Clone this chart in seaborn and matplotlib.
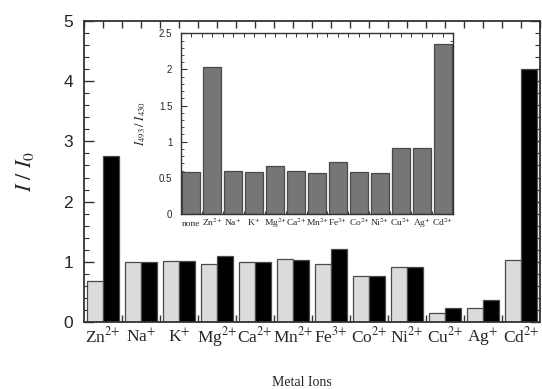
import matplotlib
matplotlib.use("Agg")
import matplotlib.pyplot as plt
import matplotlib.ticker as mticker
import numpy as np
import pandas as pd
import seaborn as sns

# Main panel: relative emission intensity for each metal ion
ions = ["Zn$^{2{+}}$", "Na$^{+}$", "K$^{+}$", "Mg$^{2{+}}$", "Ca$^{2{+}}$", "Mn$^{2{+}}$",
        "Fe$^{3{+}}$", "Co$^{2{+}}$", "Ni$^{2{+}}$", "Cu$^{2{+}}$", "Ag$^{+}$", "Cd$^{2{+}}$"]
band_430 = [0.68, 0.99, 1.01, 0.96, 0.99, 1.05, 0.97, 0.76, 0.92, 0.155, 0.24, 1.03]
band_493 = [2.75, 0.99, 1.01, 1.10, 0.99, 1.03, 1.21, 0.76, 0.92, 0.24, 0.365, 4.21]
series_names = ["430 nm", "493 nm"]

# Inset: intensity ratio I493 / I430
inset_labels = ["none", "Zn$^{2{+}}$", "Na$^{+}$", "K$^{+}$", "Mg$^{2{+}}$", "Ca$^{2{+}}$",
                "Mn$^{2{+}}$", "Fe$^{3{+}}$", "Co$^{2{+}}$", "Ni$^{2{+}}$", "Cu$^{2{+}}$",
                "Ag$^{+}$", "Cd$^{2{+}}$"]
ratio = [0.58, 2.03, 0.60, 0.58, 0.66, 0.60, 0.57, 0.72, 0.58, 0.57, 0.92, 0.91, 2.35]

sns.set_theme(style="white")
plt.rcParams["font.family"] = ["Liberation Serif", "DejaVu Serif"]
plt.rcParams["mathtext.fontset"] = "stix"

frame = "#333333"
edge = "#4a4a4a"

df = pd.DataFrame({
    "ion": ions * 2,
    "value": band_430 + band_493,
    "band": [series_names[0]] * len(ions) + [series_names[1]] * len(ions),
})
df_in = pd.DataFrame({"label": inset_labels, "ratio": ratio})

fig = plt.figure(figsize=(5.42, 3.89), dpi=100)
ax = fig.add_axes([84 / 542, 1 - 322 / 389, 456 / 542, 301 / 389])

sns.barplot(data=df, x="ion", y="value", hue="band", order=ions,
            hue_order=series_names, palette=["#dcdcdc", "#000000"],
            width=0.85, gap=0, edgecolor=edge, linewidth=0.9,
            legend=False, ax=ax)

ax.set_xlim(-0.5, len(ions) - 0.5)
ax.set_ylim(0, 5)
ax.yaxis.set_major_locator(mticker.MultipleLocator(1))
ax.yaxis.set_minor_locator(mticker.MultipleLocator(0.2))
ax.tick_params(axis="y", which="major", direction="in", length=7, width=1.0,
               color=frame, left=True, right=True, labelsize=12.5, pad=8)
ax.tick_params(axis="y", which="minor", direction="in", length=3.5, width=0.8,
               color=frame, left=True, right=True)
for lab in ax.get_yticklabels():
    lab.set_fontfamily(["Liberation Sans", "DejaVu Sans"])

ax.xaxis.set_minor_locator(mticker.FixedLocator(np.arange(0.5, len(ions) - 1, 1.0)))
ax.tick_params(axis="x", which="major", length=0, labelsize=12.5, pad=14.4)
ax.tick_params(axis="x", which="minor", direction="in", length=5, width=1.0,
               color=frame, bottom=True)
plt.setp(ax.get_xticklabels(), va="baseline")
top = ax.secondary_xaxis("top")
top.set_xticks(np.arange(-0.5, len(ions), 0.5))
top.tick_params(axis="x", direction="in", length=5, width=1.0, color=frame,
                labeltop=False)
top.spines["top"].set_visible(False)

for s in ax.spines.values():
    s.set_visible(True)
    s.set_color(frame)
    s.set_linewidth(1.3)

ax.set_ylabel("$I\\ /\\ I_0$", fontsize=16)
ax.yaxis.set_label_coords(-48 / 456, 0.5)
ax.set_xlabel("Metal Ions", fontsize=10)
ax.xaxis.set_label_coords((302 - 84) / 456, -0.18)

# Inset axes
ins = fig.add_axes([180.7 / 542, 1 - 214 / 389, 272.6 / 542, 180.7 / 389])
sns.barplot(data=df_in, x="label", y="ratio", order=inset_labels,
            color="#767676", saturation=1, width=0.83, edgecolor=edge,
            linewidth=0.9, ax=ins)
ins.set_xlim(-0.5, len(inset_labels) - 0.5)
ins.set_ylim(0, 2.5)
ins.yaxis.set_major_locator(mticker.MultipleLocator(0.5))
ins.yaxis.set_minor_locator(mticker.MultipleLocator(0.1))
ins.yaxis.set_major_formatter(mticker.FuncFormatter(lambda v, p: f"{v:g}"))
ins.tick_params(axis="y", which="major", direction="in", length=4, width=0.8,
                color=frame, left=True, right=True, labelsize=7, pad=6)
ins.tick_params(axis="y", which="minor", direction="in", length=2, width=0.6,
                color=frame, left=True, right=True)
for lab in ins.get_yticklabels():
    lab.set_fontfamily(["Liberation Sans", "DejaVu Sans"])
ins.xaxis.set_minor_locator(mticker.FixedLocator(np.arange(0.5, len(inset_labels) - 1, 1.0)))
ins.tick_params(axis="x", which="major", length=0, labelsize=6.8, pad=8.6)
ins.tick_params(axis="x", which="minor", direction="in", length=2.5, width=0.7,
                color=frame, bottom=True)
plt.setp(ins.get_xticklabels(), va="baseline")
itop = ins.secondary_xaxis("top")
itop.set_xticks(np.arange(-0.5, len(inset_labels), 0.5))
itop.tick_params(axis="x", direction="in", length=3, width=0.7, color=frame,
                 labeltop=False)
itop.spines["top"].set_visible(False)
for s in ins.spines.values():
    s.set_visible(True)
    s.set_color(frame)
    s.set_linewidth(1.0)
ins.set_xlabel("")
ins.set_ylabel("$I_{493}\\,/\\ I_{430}$", fontsize=9, labelpad=8)

fig.savefig("out.png", dpi=100)
